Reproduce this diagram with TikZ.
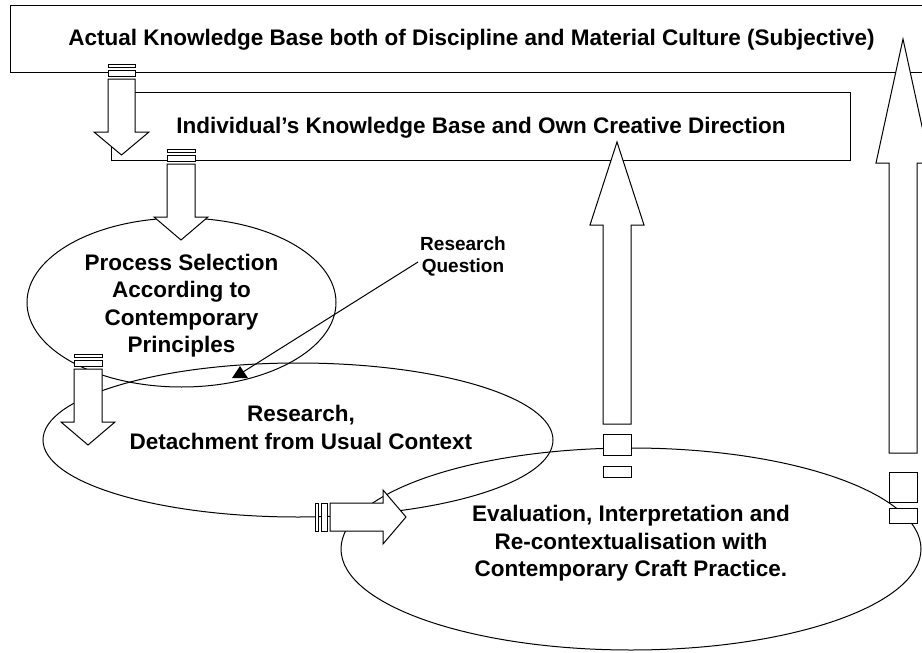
\documentclass[tikz,border=0pt]{standalone}
\usepackage{fontspec}
\setmainfont{Liberation Sans}
\usetikzlibrary{shapes.geometric}
\begin{document}
\begin{tikzpicture}[x=1pt,y=-1pt,
  line width=1pt,
  every node/.style={inner sep=0pt},
  % multi-line labels are anchored on the baseline of their last line
  lbl/.style={font=\fontsize{22.5}{27.5}\selectfont\bfseries, align=center, anchor=base},
  smalllbl/.style={font=\fontsize{19}{22}\selectfont\bfseries, align=center, anchor=base},
  bigbox/.style={draw, anchor=north west, font=\fontsize{22.5}{27.5}\selectfont\bfseries,
                 text height=17pt, text depth=4pt},
  oval/.style={draw, ellipse},
  blockarrow/.style={draw, fill=white, line join=miter},
]
\useasboundingbox (0,0) rectangle (922,653);
\clip (0,0) rectangle (922,653);

% knowledge bases
\node[bigbox, minimum width=922pt, minimum height=67pt] (kbase) at (10,5)
  {Actual Knowledge Base both of Discipline and Material Culture (Subjective)};
\node[bigbox, minimum width=739pt, minimum height=68pt] (ikb) at (111,92)
  {Individual’s Knowledge Base and Own Creative Direction};

% process stages
\node[oval, minimum width=309pt, minimum height=169pt] (procsel) at (181.5,302.5) {};
\node[oval, minimum width=510pt, minimum height=154pt] (research) at (298,440) {};
\node[oval, minimum width=580pt, minimum height=202pt] (evaluation) at (631,549) {};

% striped arrow: actual -> individual knowledge base
\draw[blockarrow] (108,64) rectangle (135,67);
\draw[blockarrow] (108,70) rectangle (135,76);
\draw[blockarrow] (108,79) -- (135,79) -- (135,132) -- (149,132) -- (121.5,155)
  -- (94,132) -- (108,132) -- cycle;

% striped arrow: individual knowledge base -> process selection
\draw[blockarrow] (167,149) rectangle (195,152);
\draw[blockarrow] (167,155) rectangle (195,161);
\draw[blockarrow] (167,164) -- (195,164) -- (195,217) -- (208,217) -- (181,240)
  -- (154,217) -- (167,217) -- cycle;

% striped arrow: process selection -> research
\draw[blockarrow] (74,354) rectangle (102,357);
\draw[blockarrow] (74,360) rectangle (102,366);
\draw[blockarrow] (74,369) -- (102,369) -- (102,422) -- (115,422) -- (88,445)
  -- (61,422) -- (74,422) -- cycle;

% striped arrow: research -> evaluation
\draw[blockarrow] (315,503) rectangle (318,531);
\draw[blockarrow] (321,503) rectangle (327,531);
\draw[blockarrow] (330,503) -- (383,503) -- (383,490) -- (406,517) -- (383,544)
  -- (383,531) -- (330,531) -- cycle;

% striped arrow: evaluation -> individual knowledge base
\draw[blockarrow] (603,466) rectangle (631,477);
\draw[blockarrow] (603,434) rectangle (631,455);
\draw[blockarrow] (603,424) -- (603,225) -- (590,225) -- (617,142) -- (644,225)
  -- (631,225) -- (631,424) -- cycle;

% striped arrow: evaluation -> actual knowledge base
\draw[blockarrow] (889,508) rectangle (917,523);
\draw[blockarrow] (889,472) rectangle (917,502);
\draw[blockarrow] (889,453) -- (889,163) -- (876,163) -- (903,39) -- (930,163)
  -- (917,163) -- (917,453) -- cycle;

% stage labels
\node[lbl] (proctext) at (181.5,352.6) {Process Selection\\According to\\Contemporary\\Principles};
\node[lbl] (restext) at (301,449) {Research,\\Detachment from Usual Context};
\node[lbl] (evaltext) at (631,576.5) {Evaluation, Interpretation and\\Re-contextualisation with\\Contemporary Craft Practice.};

% research question pointer
\node[smalllbl] (rq) at (463,272.7) {Research\\Question};
\coordinate (rqfoot) at (418,262);
\coordinate (rqtip) at (243,372);
\draw (rqfoot) -- (rqtip);
\fill (240,366) -- (248,378) -- (232,378) -- cycle;
\end{tikzpicture}
\end{document}
